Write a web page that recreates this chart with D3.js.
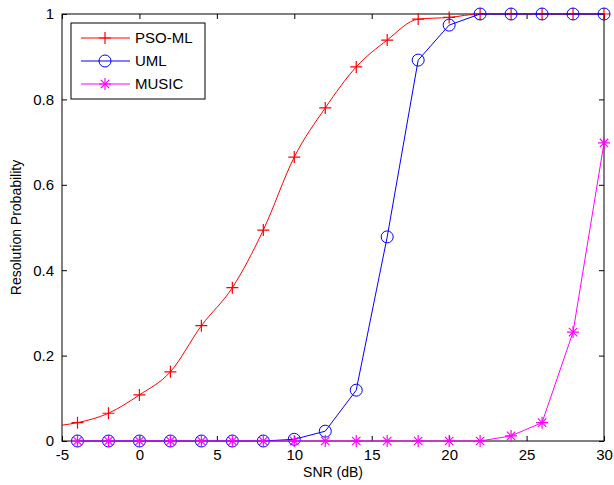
<!DOCTYPE html>
<html>
<head>
<meta charset="utf-8">
<script src="https://cdn.jsdelivr.net/npm/d3@7"></script>
<style>
  body { margin: 0; background: #fff; }
  text { font-family: Arial, "Liberation Sans", sans-serif; }
</style>
</head>
<body>
<div id="chart"></div>
<script>
// Dati
var snr = [-4, -2, 0, 2, 4, 6, 8, 10, 12, 14, 16, 18, 20, 22, 24, 26, 28, 30];
var psoMl = [0.043, 0.065, 0.108, 0.162, 0.27, 0.359, 0.494, 0.665, 0.78, 0.876, 0.939, 0.988, 0.992, 1, 1, 1, 1, 1];
var psoMlStart = 0.037; // valore a -5 dB, la linea parte dal bordo
var uml = [0, 0, 0, 0, 0, 0, 0, 0.004, 0.023, 0.119, 0.478, 0.892, 0.974, 1, 1, 1, 1, 1];
var music = [0, 0, 0, 0, 0, 0, 0, 0, 0, 0, 0, 0, 0, 0, 0.012, 0.043, 0.255, 0.698];
var xTicks = [-5, 0, 5, 10, 15, 20, 25, 30];
var yTicks = [0, 0.2, 0.4, 0.6, 0.8, 1];

var W = 614, H = 485;
var margin = {top: 14, right: 10, bottom: 44, left: 62};
var width = W - margin.left - margin.right;
var height = H - margin.top - margin.bottom;

var svg = d3.select("#chart").append("svg")
  .attr("width", W).attr("height", H);
var g = svg.append("g")
  .attr("transform", "translate(" + margin.left + "," + margin.top + ")");

var x = d3.scaleLinear().domain([-5, 30]).range([0, width]);
var y = d3.scaleLinear().domain([0, 1]).range([height, 0]);

// Assi con tick interni, su tutti e quattro i lati
function styleAxis(sel) {
  sel.select(".domain").remove();
  sel.selectAll("line").attr("stroke", "#000");
  sel.selectAll("text").attr("fill", "#000").style("font-size", "15px");
}
var fmtX = function(d) { return String(d); }; // trattino normale come nell'originale
var fmtY = function(d) { return d === 0 ? "0" : d === 1 ? "1" : d3.format(".1f")(d); };

g.append("g").attr("transform", "translate(0," + height + ")")
  .call(d3.axisBottom(x).tickValues(xTicks).tickSize(-5).tickPadding(8).tickFormat(fmtX))
  .call(styleAxis);
g.append("g")
  .call(d3.axisTop(x).tickValues(xTicks).tickSize(-5).tickFormat(""))
  .call(styleAxis);
g.append("g")
  .call(d3.axisLeft(y).tickValues(yTicks).tickSize(-5).tickPadding(8).tickFormat(fmtY))
  .call(styleAxis);
g.append("g").attr("transform", "translate(" + width + ",0)")
  .call(d3.axisRight(y).tickValues(yTicks).tickSize(-5).tickFormat(""))
  .call(styleAxis);

g.append("rect").attr("width", width).attr("height", height)
  .attr("fill", "none").attr("stroke", "#000").attr("stroke-width", 1);

// Etichette assi
svg.append("text")
  .attr("x", margin.left + width / 2).attr("y", H - 8)
  .attr("text-anchor", "middle").style("font-size", "14px").text("SNR (dB)");
svg.append("text")
  .attr("transform", "translate(21," + (margin.top + height / 2) + ") rotate(-90)")
  .attr("text-anchor", "middle").style("font-size", "14px").text("Resolution Probability");

// Serie
var series = [
  {name: "PSO-ML", values: psoMl, color: "#ff0000", marker: "plus", curve: d3.curveMonotoneX},
  {name: "UML", values: uml, color: "#0000ff", marker: "circle", curve: d3.curveLinear},
  {name: "MUSIC", values: music, color: "#ff00ff", marker: "star", curve: d3.curveLinear}
];

function drawMarker(sel, type, color) {
  var s = 6;
  if (type === "circle") {
    sel.append("circle").attr("r", 6).attr("fill", "none").attr("stroke", color).attr("stroke-width", 1);
  } else {
    sel.append("path")
      .attr("d", "M" + (-s) + ",0H" + s + "M0," + (-s) + "V" + s)
      .attr("stroke", color).attr("stroke-width", 1.2);
    if (type === "star") {
      var d = s * 0.7;
      sel.append("path")
        .attr("d", "M" + (-d) + "," + (-d) + "L" + d + "," + d + "M" + (-d) + "," + d + "L" + d + "," + (-d))
        .attr("stroke", color).attr("stroke-width", 1.2);
    }
  }
}

series.forEach(function(s) {
  var pts = snr.map(function(v, i) { return [v, s.values[i]]; });
  var linePts = s.name === "PSO-ML" ? [[-5, psoMlStart]].concat(pts) : pts;
  g.append("path")
    .datum(linePts)
    .attr("fill", "none").attr("stroke", s.color).attr("stroke-width", 1)
    .attr("d", d3.line().curve(s.curve).x(function(d) { return x(d[0]); }).y(function(d) { return y(d[1]); }));
  g.append("g").selectAll("g")
    .data(pts).enter().append("g")
    .attr("transform", function(d) { return "translate(" + x(d[0]) + "," + y(d[1]) + ")"; })
    .each(function() { drawMarker(d3.select(this), s.marker, s.color); });
});

// Legenda
var leg = svg.append("g").attr("transform", "translate(71,23)");
leg.append("rect").attr("width", 134).attr("height", 76)
  .attr("fill", "#fff").attr("stroke", "#000").attr("stroke-width", 1);
series.forEach(function(s, i) {
  var yy = 15 + i * 23;
  leg.append("line").attr("x1", 10).attr("x2", 59).attr("y1", yy).attr("y2", yy)
    .attr("stroke", s.color).attr("stroke-width", 1);
  var m = leg.append("g").attr("transform", "translate(34," + yy + ")");
  drawMarker(m, s.marker, s.color);
  leg.append("text").attr("x", 64).attr("y", yy).attr("dy", "0.35em")
    .style("font-size", "15px").text(s.name);
});
</script>
</body>
</html>
